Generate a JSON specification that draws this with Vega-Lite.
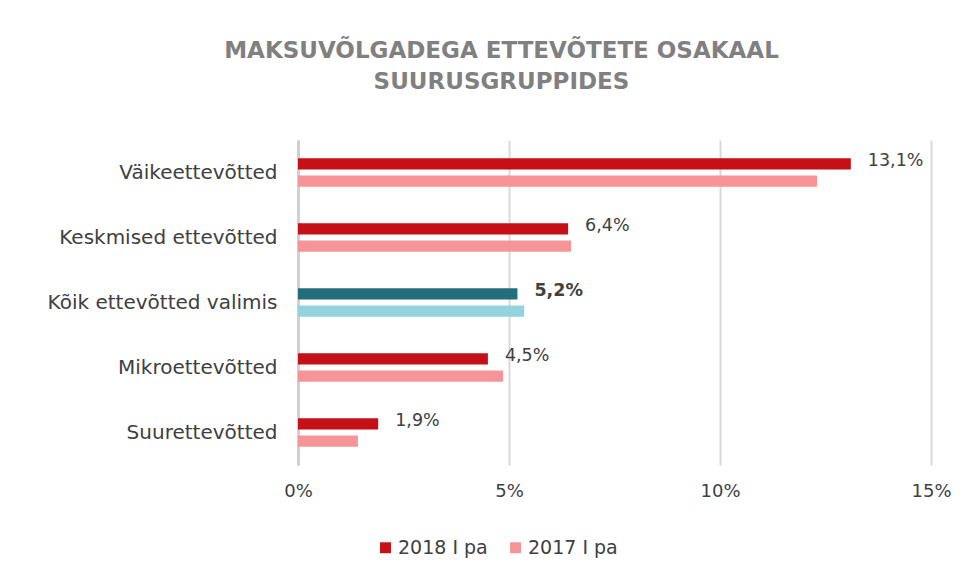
{
  "$schema": "https://vega.github.io/schema/vega-lite/v6.json",
  "width": 633,
  "height": 325,
  "autosize": {"type": "none"},
  "padding": {"left": 298, "top": 140, "right": 41, "bottom": 114},
  "background": "white",
  "config": {
    "font": "DejaVu Sans",
    "view": {"stroke": null},
    "locale": {"number": {"decimal": ",", "thousands": " ", "grouping": [3], "currency": ["", " €"], "percent": "%"}}
  },
  "title": {
    "text": ["MAKSUVÕLGADEGA ETTEVÕTETE OSAKAAL", "SUURUSGRUPPIDES"],
    "font": "DejaVu Sans",
    "fontSize": 23,
    "fontWeight": "bold",
    "color": "#808080",
    "lineHeight": 31,
    "anchor": "middle",
    "dx": -113,
    "offset": 46
  },
  "data": {
    "values": [
      {"grupp": "Väikeettevõtted", "aasta": "2018 I pa", "osakaal": 0.131},
      {"grupp": "Väikeettevõtted", "aasta": "2017 I pa", "osakaal": 0.123},
      {"grupp": "Keskmised ettevõtted", "aasta": "2018 I pa", "osakaal": 0.064},
      {"grupp": "Keskmised ettevõtted", "aasta": "2017 I pa", "osakaal": 0.0647},
      {"grupp": "Kõik ettevõtted valimis", "aasta": "2018 I pa", "osakaal": 0.052},
      {"grupp": "Kõik ettevõtted valimis", "aasta": "2017 I pa", "osakaal": 0.0536},
      {"grupp": "Mikroettevõtted", "aasta": "2018 I pa", "osakaal": 0.045},
      {"grupp": "Mikroettevõtted", "aasta": "2017 I pa", "osakaal": 0.0486},
      {"grupp": "Suurettevõtted", "aasta": "2018 I pa", "osakaal": 0.019},
      {"grupp": "Suurettevõtted", "aasta": "2017 I pa", "osakaal": 0.0142}
    ]
  },
  "encoding": {
    "y": {
      "field": "grupp",
      "type": "nominal",
      "sort": ["Väikeettevõtted", "Keskmised ettevõtted", "Kõik ettevõtted valimis", "Mikroettevõtted", "Suurettevõtted"],
      "scale": {"paddingInner": 0.56, "paddingOuter": 0.28},
      "axis": {
        "title": null,
        "ticks": false,
        "domain": true,
        "domainColor": "#d0d0d0",
        "domainWidth": 3,
        "labelFont": "DejaVu Sans",
        "labelFontSize": 20,
        "labelColor": "#404040",
        "labelPadding": 21,
        "labelLimit": 0
      }
    },
    "yOffset": {
      "field": "aasta",
      "type": "nominal",
      "sort": ["2018 I pa", "2017 I pa"],
      "scale": {"paddingInner": 0.35, "paddingOuter": 0}
    },
    "x": {
      "field": "osakaal",
      "type": "quantitative",
      "scale": {"domain": [0, 0.15], "nice": false},
      "axis": {
        "title": null,
        "format": ".0%",
        "values": [0, 0.05, 0.1, 0.15],
        "ticks": false,
        "domain": false,
        "grid": true,
        "gridColor": "#d9d9d9",
        "gridWidth": 2,
        "labelFlush": false,
        "labelFont": "DejaVu Sans",
        "labelFontSize": 18,
        "labelColor": "#404040",
        "labelPadding": 17
      }
    }
  },
  "layer": [
    {
      "mark": {"type": "bar"},
      "encoding": {
        "color": {
          "condition": [
            {"test": "datum.grupp === 'Kõik ettevõtted valimis' && datum.aasta === '2018 I pa'", "value": "#236E7C"},
            {"test": "datum.grupp === 'Kõik ettevõtted valimis' && datum.aasta === '2017 I pa'", "value": "#94D3DE"}
          ],
          "field": "aasta",
          "type": "nominal",
          "sort": ["2018 I pa", "2017 I pa"],
          "scale": {"domain": ["2018 I pa", "2017 I pa"], "range": ["#C41016", "#F79497"]},
          "legend": {
            "title": null,
            "orient": "none",
            "direction": "horizontal",
            "legendX": 78,
            "legendY": 398,
            "symbolType": "square",
            "symbolSize": 120,
            "symbolStrokeWidth": 0,
            "labelFont": "DejaVu Sans",
            "labelFontSize": 19,
            "labelColor": "#404040",
            "labelOffset": 3,
            "columnPadding": 18
          }
        }
      }
    },
    {
      "transform": [{"filter": "datum.aasta === '2018 I pa' && datum.grupp !== 'Kõik ettevõtted valimis'"}],
      "mark": {"type": "text", "align": "left", "baseline": "middle", "dx": 17, "dy": -3, "font": "DejaVu Sans", "fontSize": 17.5, "color": "#404040"},
      "encoding": {
        "text": {"field": "osakaal", "type": "quantitative", "format": ".1%"}
      }
    },
    {
      "transform": [{"filter": "datum.aasta === '2018 I pa' && datum.grupp === 'Kõik ettevõtted valimis'"}],
      "mark": {"type": "text", "align": "left", "baseline": "middle", "dx": 17, "dy": -3, "font": "DejaVu Sans", "fontSize": 17.5, "fontWeight": "bold", "color": "#404040"},
      "encoding": {
        "text": {"field": "osakaal", "type": "quantitative", "format": ".1%"}
      }
    }
  ]
}
